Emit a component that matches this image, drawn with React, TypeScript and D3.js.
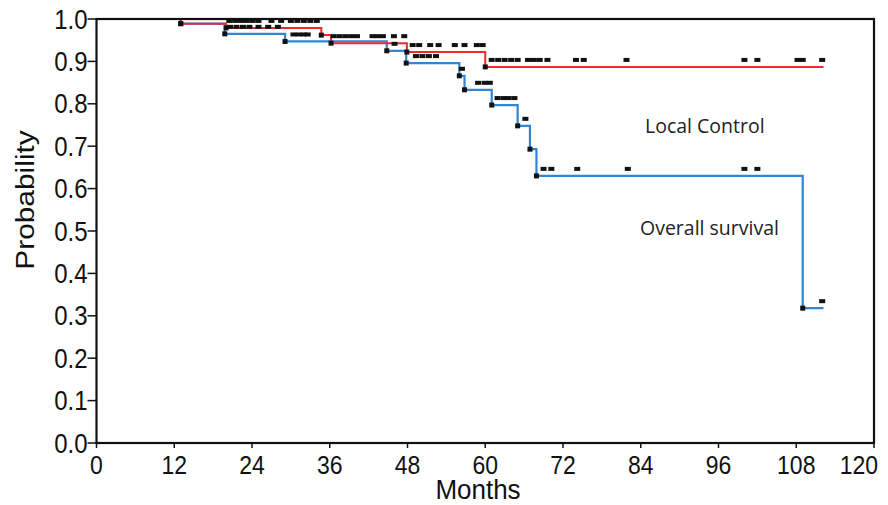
import React from "react";
import * as d3 from "d3";

// Kaplan-Meier steps: at time t[i] the curve takes value s[i]; last point is end of follow-up
const lcTimes = [0, 13, 20, 34.7, 36.2, 47.9, 60, 112.2];
const lcSurv = [1, 0.989, 0.979, 0.962, 0.943, 0.922, 0.887, 0.887];
const osTimes = [0, 13, 19.8, 29.1, 44.8, 47.8, 56, 56.8, 61, 65, 66.9, 67.9, 109, 112.2];
const osSurv = [1, 0.989, 0.965, 0.947, 0.925, 0.896, 0.866, 0.833, 0.797, 0.748, 0.693, 0.63, 0.318, 0.318];

const lcCensor = [
  20.5, 21.4, 22.3, 23.2, 24.1, 25, 27, 28.5, 30, 31, 32, 33, 34,
  36.6, 37.5, 38.4, 39.3, 40.2, 42.6, 43.4, 44.2, 45.9, 47.5,
  48.8, 49.8, 51.5, 52.8, 55.3, 56.8, 58.7, 59.6,
  61, 62, 63, 64, 65, 66.6, 67.5, 68.4, 69.6, 74, 75.2, 81.8, 100, 102, 108.2, 109, 112,
];
const osCensor = [
  20.6, 21.6, 22.6, 23.6, 25, 26.5, 28,
  30.4, 31.2, 32, 32.6,
  46,
  49.3, 50.3, 51.3, 52.4,
  56.4,
  58.9, 59.9, 60.7,
  61.9, 62.8, 63.6, 64.5,
  66.2,
  69, 70.2, 74.2, 82, 100, 102,
  112,
];

const xTicks = [0, 12, 24, 36, 48, 60, 72, 84, 96, 108, 120];
const yTicks = [0, 0.1, 0.2, 0.3, 0.4, 0.5, 0.6, 0.7, 0.8, 0.9, 1.0];

const xTitle = "Months";
const yTitle = "Probability";
const lcLabel = "Local Control";
const osLabel = "Overall survival";

const W = 888;
const H = 505;
const FONT = "'Liberation Sans', Arial, sans-serif";

function T({ x, y, size, anchor = "start", family = FONT, fill = "#111", rotate = 0, sy = 1.15, children }: any) {
  return (
    <text
      transform={`translate(${x},${y}) scale(1,${sy})${rotate ? ` rotate(${rotate})` : ""}`}
      fontSize={size}
      fontFamily={family}
      textAnchor={anchor}
      fill={fill}
    >
      {children}
    </text>
  );
}

function levelAt(times: number[], surv: number[], t: number) {
  let v = surv[0];
  for (let i = 0; i < times.length; i++) if (times[i] <= t) v = surv[i];
  return v;
}

export default function App() {
  const x = d3.scaleLinear().domain([0, 120]).range([96.5, 874]);
  const y = d3.scaleLinear().domain([0, 1]).range([443, 19]);

  const line = d3
    .line<[number, number]>()
    .x((d) => x(d[0]))
    .y((d) => y(d[1]))
    .curve(d3.curveStepAfter);

  const lcPts = lcTimes.map((t, i) => [t, lcSurv[i]] as [number, number]);
  const osPts = osTimes.map((t, i) => [t, osSurv[i]] as [number, number]);

  const events = (times: number[], surv: number[]) =>
    times.slice(1, -1).map((t, i) => [t, surv[i + 1]] as [number, number]);

  const RED = "#ee2a2e";
  const BLUE = "#2e86d4";
  const lastTick = xTicks[xTicks.length - 1];

  return (
    <svg
      width={W}
      height={H}
      style={{ position: "absolute", left: 0, top: 0, background: "#fff" }}
    >
      <rect x={0} y={0} width={W} height={H} fill="#fff" />

      {/* curves */}
      <path d={line(osPts) || ""} fill="none" stroke={BLUE} strokeWidth={2.2} />
      <path d={line(lcPts) || ""} fill="none" stroke={RED} strokeWidth={2} />

      {/* frame */}
      <rect
        x={x(0)}
        y={y(1)}
        width={x(120) - x(0)}
        height={y(0) - y(1)}
        fill="none"
        stroke="#111"
        strokeWidth={2.2}
      />

      {/* event markers */}
      {events(osTimes, osSurv).map((d, i) => (
        <rect key={"oe" + i} x={x(d[0]) - 2.5} y={y(d[1]) - 2.5} width={5} height={5} fill="#111" />
      ))}
      {events(lcTimes, lcSurv).map((d, i) => (
        <rect key={"le" + i} x={x(d[0]) - 2.5} y={y(d[1]) - 2.5} width={5} height={5} fill="#111" />
      ))}

      {/* censor marks */}
      {osCensor.map((t, i) => (
        <rect
          key={"oc" + i}
          x={x(t) - 3}
          y={y(levelAt(osTimes, osSurv, t)) - 9}
          width={6}
          height={4}
          fill="#111"
        />
      ))}
      {lcCensor.map((t, i) => (
        <rect
          key={"lc" + i}
          x={x(t) - 3}
          y={y(levelAt(lcTimes, lcSurv, t)) - 9}
          width={6}
          height={4}
          fill="#111"
        />
      ))}

      {/* y ticks */}
      {yTicks.map((v) => (
        <g key={"y" + v}>
          <line x1={x(0) - 9} x2={x(0)} y1={y(v)} y2={y(v)} stroke="#111" strokeWidth={1.5} />
          <T x={x(0) - 9} y={y(v) + 9.5} size={24} anchor="end">
            {d3.format(".1f")(v)}
          </T>
        </g>
      ))}
      {/* x ticks */}
      {xTicks.map((v) => (
        <g key={"x" + v}>
          <line x1={x(v)} x2={x(v)} y1={y(0)} y2={y(0) + 5} stroke="#111" strokeWidth={1.5} />
          <T
            x={v === lastTick ? x(v) + 4 : x(v)}
            y={y(0) + 31}
            size={23}
            anchor={v === lastTick ? "end" : "middle"}
          >
            {String(v)}
          </T>
        </g>
      ))}
      <T x={478} y={499} size={26} sy={1.05} anchor="middle">
        {xTitle}
      </T>
      <T x={34} y={200} size={26} anchor="middle" rotate={-90}>
        {yTitle}
      </T>

      <T x={645} y={133} size={19.5} sy={1.05} family="'Open Sans', sans-serif" fill="#222">
        {lcLabel}
      </T>
      <T x={640} y={235} size={19.5} sy={1.05} family="'Open Sans', sans-serif" fill="#222">
        {osLabel}
      </T>
    </svg>
  );
}
